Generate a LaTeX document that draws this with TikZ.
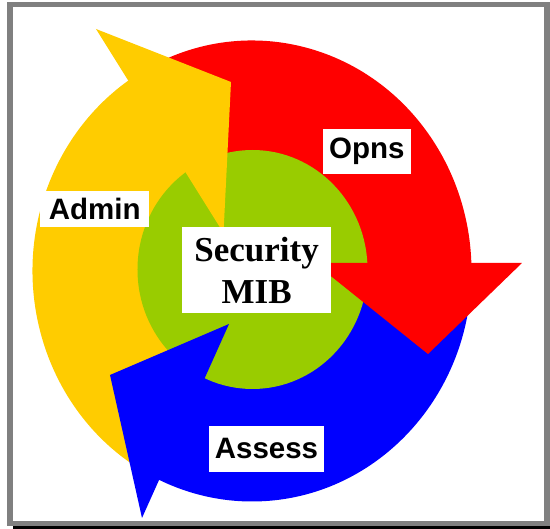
\documentclass[tikz,border=0pt]{standalone}
\usepackage{fontspec}
\setmainfont{Liberation Serif}
\setsansfont{Liberation Sans}
\usepackage{tikz}
\usetikzlibrary{positioning}
\definecolor{admincol}{RGB}{255,204,0}
\definecolor{opnscol}{RGB}{255,0,0}
\definecolor{assesscol}{RGB}{0,0,255}
\definecolor{mibcol}{RGB}{153,204,0}
\definecolor{framegray}{RGB}{128,128,128}
\tikzstyle{ring} = [x radius=219.5, y radius=230.5]
\tikzstyle{tag} = [fill=white, inner sep=0pt, text centered, font=\sffamily\bfseries\fontsize{29.5}{34}\selectfont]

\begin{document}
\begin{tikzpicture}[x=1pt, y=1pt]
		\useasboundingbox (-252,-258) rectangle (298,271);
		\coordinate (centre) at (0,0);
		\coordinate (mibpos) at (4.6,1);
		\coordinate (opnspos) at (114.9,119.5);
		\coordinate (adminpos) at (-157.3,62.1);
		\coordinate (assesspos) at (14.5,-177.9);
		% Frame
		\draw[framegray, line width=5.7pt] (-242.3,266.5) rectangle (295.2,-252.5);
		\fill[black] (-239.3,-255) rectangle (298,-258);
		% Bands
		\fill[admincol] (centre) -- (240:219.5 and 230.5) arc[ring, start angle=240, end angle=119] -- cycle;
		\fill[opnscol] (centre) -- (121:219.5 and 230.5) arc[ring, start angle=121, end angle=-3] -- cycle;
		\fill[assesscol] (centre) -- (-1:219.5 and 230.5) arc[ring, start angle=-1, end angle=-118] -- cycle;
		% Core
		\fill[mibcol] (0.5,1.5) ellipse [x radius=115, y radius=119.5];
		% Heads
		\fill[admincol] (-28.5,38) -- (-156,242) -- (-21,189) -- cycle;
		\fill[opnscol] (62.6,8) -- (270,8) -- (176,-83) -- cycle;
		\fill[assesscol] (-23,-53) -- (-110,-247) -- (-142,-104) -- cycle;
		% Labels
		\node[tag, name=opns, minimum width=88.3, minimum height=45] at (opnspos) {Opns};
		\node[tag, name=admin, minimum width=109.3, minimum height=35.7] at (adminpos) {Admin};
		\node[tag, name=assess, minimum width=115, minimum height=46.3] at (assesspos) {Assess};
		\node[fill=white, inner sep=0pt, align=center, minimum width=148.7, minimum height=85.4, font=\rmfamily\bfseries\fontsize{35}{42}\selectfont, name=mib] at (mibpos) {Security\\MIB};
\end{tikzpicture}
\end{document}
